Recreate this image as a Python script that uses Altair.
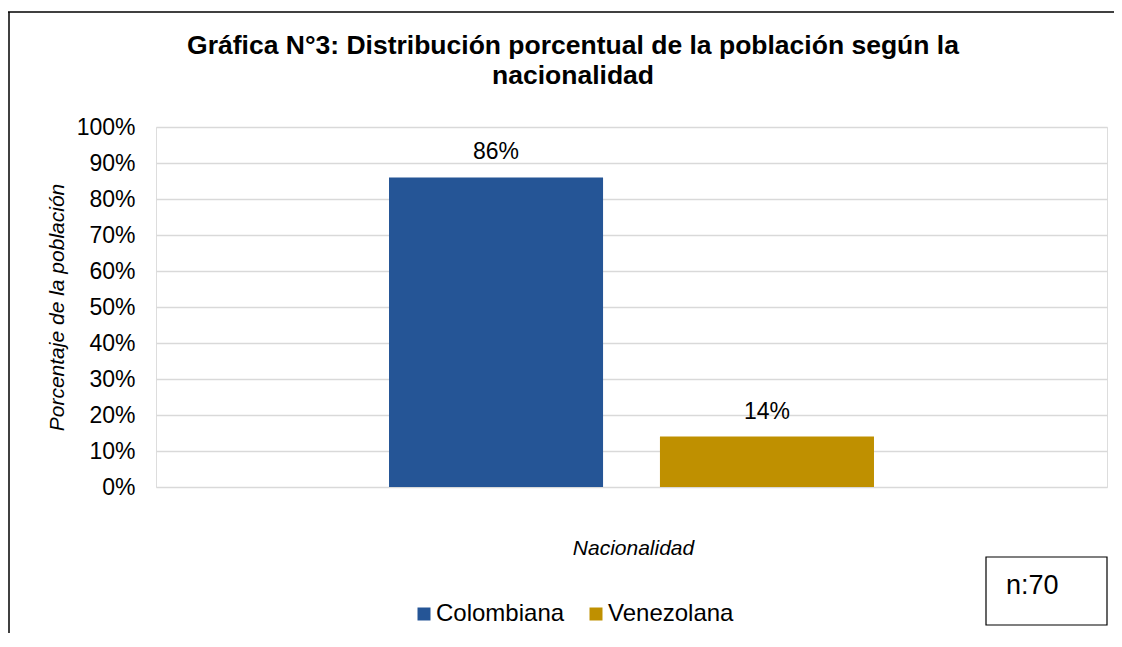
import altair as alt
import pandas as pd

# ---- data ----
nacionalidades = ["Colombiana", "Venezolana"]
porcentajes = [0.86, 0.14]
colores = ["#255596", "#BF9000"]
n_total = 70
y_ticks = [0, 0.1, 0.2, 0.3, 0.4, 0.5, 0.6, 0.7, 0.8, 0.9, 1.0]

titulo = ["Gráfica N°3: Distribución porcentual de la población según la", "nacionalidad"]
titulo_y = "Porcentaje de la población"
titulo_x = "Nacionalidad"

FONT = "Liberation Sans"
W, H = 951, 360

df = pd.DataFrame({"nacionalidad": nacionalidades, "porcentaje": porcentajes})
dummy = pd.DataFrame({"n": [f"n:{n_total}"]})

x_enc = alt.X(
    "nacionalidad:N",
    sort=nacionalidades,
    scale=alt.Scale(paddingInner=0.21, paddingOuter=0.86),
    axis=alt.Axis(
        labels=False, ticks=False, domain=False, grid=False,
        title=titulo_x, titleFont=FONT, titleFontSize=21, titleFontStyle="italic",
        titleFontWeight="normal", titleColor="#000000",
        titleX=477, titleY=61, titleBaseline="middle", titleAlign="center",
    ),
)
y_enc = alt.Y(
    "porcentaje:Q",
    scale=alt.Scale(domain=[0, 1], nice=False),
    axis=alt.Axis(
        values=y_ticks, tickCount=len(y_ticks), format=".0%", ticks=False, domain=False,
        labelOverlap=False,
        labelFont=FONT, labelFontSize=23, labelColor="#000000", labelPadding=21,
        grid=True, gridColor="#d9d9d9", gridWidth=1.5,
        title=titulo_y, titleFont=FONT, titleFontSize=21, titleFontStyle="italic",
        titleFontWeight="normal", titleColor="#000000",
        titleAngle=270, titleX=-99, titleY=H / 2, titleBaseline="middle", titleAlign="center",
    ),
)

bars = alt.Chart(df).mark_bar().encode(
    x=x_enc,
    y=y_enc,
    color=alt.Color(
        "nacionalidad:N",
        sort=nacionalidades,
        scale=alt.Scale(domain=nacionalidades, range=colores),
        legend=alt.Legend(
            title=None, orient="none", direction="horizontal",
            legendX=256, legendY=475, padding=0,
            symbolType="square", symbolSize=169, symbolStrokeWidth=0,
            labelFont=FONT, labelFontSize=24, labelColor="#000000",
            labelOffset=0, columnPadding=19,
        ),
    ),
)

labels = alt.Chart(df).mark_text(
    font=FONT, fontSize=23, color="#000000", baseline="alphabetic", dy=-18
).encode(
    x=x_enc,
    y=y_enc,
    text=alt.Text("porcentaje:Q", format=".0%"),
)

# chart title drawn as text above the plot
title_mark = alt.Chart(dummy).mark_text(
    font=FONT, fontSize=26.5, fontWeight="bold", color="#000000",
    align="center", baseline="alphabetic", lineHeight=30,
).encode(x=alt.value(417), y=alt.value(-73), text=alt.value(titulo))

# decorative frame of the chart
frame_left = alt.Chart(dummy).mark_rule(color="#000000", strokeWidth=1.5).encode(
    x=alt.value(-147), y=alt.value(-115), y2=alt.value(520)
)
frame_top = alt.Chart(dummy).mark_rule(color="#000000", strokeWidth=1.5).encode(
    x=alt.value(-148), x2=alt.value(1000), y=alt.value(-115)
)

# sample size box
n_box = alt.Chart(dummy).mark_rect(fill="#ffffff", stroke="#000000", strokeWidth=1.2).encode(
    x=alt.value(830), x2=alt.value(951), y=alt.value(430), y2=alt.value(498)
)
n_text = alt.Chart(dummy).mark_text(
    font=FONT, fontSize=27, color="#000000", align="left", baseline="middle"
).encode(x=alt.value(850), y=alt.value(459), text="n:N")

chart = alt.layer(frame_left, frame_top, title_mark, bars, labels, n_box, n_text).properties(
    width=W,
    height=H,
    padding={"left": 148, "top": 119, "right": 7, "bottom": 146},
    autosize=alt.AutoSizeParams(type="none"),
).configure_view(stroke="transparent", strokeWidth=0).configure(background="#ffffff")

chart.save("out.html", embed_options={"renderer": "svg", "actions": False})
